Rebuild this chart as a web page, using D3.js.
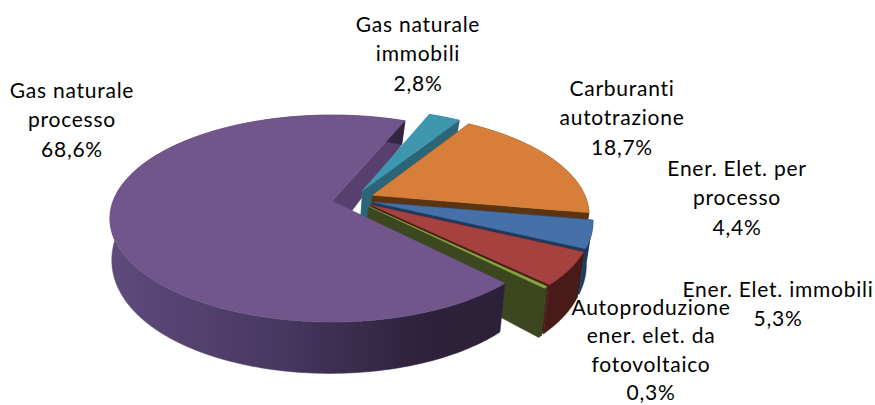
<!DOCTYPE html>
<html><head><meta charset="utf-8">
<script src="https://cdn.jsdelivr.net/npm/d3@7"></script>
<style>html,body{margin:0;padding:0;background:#fff}svg{display:block}text{font-family:Lato,"Open Sans",sans-serif;font-size:21px;letter-spacing:.75px;fill:#000;text-anchor:middle}</style>
</head><body><svg id="c" width="875" height="405"></svg>
<script>
// Data
const categories = ["Gas naturale processo","Gas naturale immobili","Carburanti autotrazione","Ener. Elet. per processo","Ener. Elet. immobili","Autoproduzione ener. elet. da fotovoltaico"];
const values = [68.6,2.8,18.7,4.4,5.3,0.3];
const labelLines = [["Gas naturale","processo"],["Gas naturale","immobili"],["Carburanti","autotrazione"],["Ener. Elet. per","processo"],["Ener. Elet. immobili"],["Autoproduzione","ener. elet. da","fotovoltaico"]];
const topColors = ["#71568B","#3F97AF","#D77F3A","#4571A8","#A5413F","#86A63F"];
const endWallColors = ["#573F6E","#2B6577","#5B3512","#1D3A5C","#481B18","#3C461F"];
const startWallColors = ["#573F6E","#3A8BA1","#5B3512","#1D3A5C","#481B18","#3C461F"];
const outerWallColors = ["url(#pw)","#2B6577","#5B3512","#1D3A5C","#481B18","#3C461F"];
const labelX = [72,418,622,737,778,651];
const labelY = [98,32,96,176,297,314.5];
const lineGap = [29.3,29.3,29.3,29.3,29.3,28.6];

const svg = d3.select("#c");
const grad = svg.append("defs").append("linearGradient").attr("id","pw").attr("gradientUnits","userSpaceOnUse")
  .attr("x1",112).attr("x2",500).attr("y1",0).attr("y2",0);
[[0,"#5F4A7C"],[.45,"#46375F"],[.8,"#2D213B"],[1,"#2D2139"]].forEach(([o,c])=>grad.append("stop").attr("offset",o).attr("stop-color",c));

const planes = {
  top:{cx:332,cy:201,rx:218.8,ry:100.5,kx:.169,ky:.169},
  bot:{cx:330,cy:240,rx:215,ry:116,kx:.169,ky:.13}
};
const explode = .0985, hub = [.0965,-.0177], rimRadius = [1,.98,.98,.98,.98,.98];
const proj = (p,u,v)=>[p.cx+p.rx*u/(1-p.kx*v), p.cy+p.ry*v/(1-p.ky*v)];
const line = d3.line();
const pie = d3.pie().sort(null).startAngle(136*Math.PI/180).endAngle((136+360)*Math.PI/180);
const arcs = pie(values);

function geom(a,i){
  const m=(a.startAngle+a.endAngle)/2, r=rimRadius[i];
  const o=[hub[0]+explode*Math.sin(m),hub[1]-explode*Math.cos(m)];
  const n=Math.max(2,Math.ceil((a.endAngle-a.startAngle)/0.02));
  const rim=d3.range(n+1).map(k=>{const t=a.startAngle+(a.endAngle-a.startAngle)*k/n;return [o[0]+r*Math.sin(t),o[1]-r*Math.cos(t)]});
  return {o,rim};
}
const P=(pl,pts)=>pts.map(q=>proj(pl,q[0],q[1]));
function poly(pts,fill){svg.append("path").attr("d",line(pts)+"Z").attr("fill",fill).attr("stroke",fill).attr("stroke-width",.5).attr("stroke-linejoin","round");}
function radialWall(g,pt,fill){poly([...P(planes.top,[g.o,pt]),...P(planes.bot,[pt,g.o])],fill);}
function outerWall(g,fill){poly([...P(planes.top,g.rim),...P(planes.bot,g.rim).reverse()],fill);}
function topFace(g,fill){poly(P(planes.top,[g.o,...g.rim]),fill);}

const gs=arcs.map(geom);
// back-to-front painting: the large slice's end wall first, its front last
radialWall(gs[0],gs[0].rim[gs[0].rim.length-1],endWallColors[0]);
[1,2,3,4,5].forEach(i=>{
  const g=gs[i];
  radialWall(g,g.rim[0],startWallColors[i]);
  outerWall(g,outerWallColors[i]);
  radialWall(g,g.rim[g.rim.length-1],endWallColors[i]);
  topFace(g,topColors[i]);
});
outerWall(gs[0],outerWallColors[0]);
topFace(gs[0],topColors[0]);

const fmt=v=>d3.format(".1f")(v).replace(".",",")+"%";
categories.forEach((c,i)=>{
  const lines=[...labelLines[i],fmt(values[i])];
  lines.forEach((s,j)=>svg.append("text").attr("x",labelX[i]).attr("y",labelY[i]+j*lineGap[i]).text(s));
});
</script></body></html>
